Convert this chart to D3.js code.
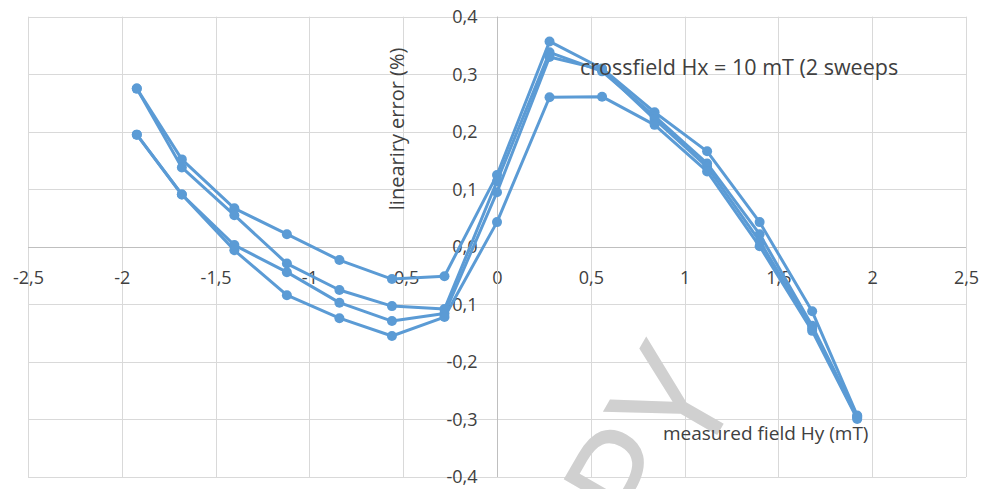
<!DOCTYPE html>
<html>
<head>
<meta charset="utf-8">
<script src="https://cdn.jsdelivr.net/npm/d3@7"></script>
<style>
  html, body { margin: 0; padding: 0; background: #fff; }
  svg { display: block; font-family: "Open Sans", "Noto Sans", sans-serif; }
</style>
</head>
<body>
<svg id="svg" width="981" height="489"></svg>
<script>
// --- DATA ---
const fieldHy = [-1.92, -1.68, -1.40, -1.12, -0.84, -0.56, -0.28, 0, 0.28, 0.56, 0.84, 1.12, 1.40, 1.68, 1.92];
const sweepA = [0.275, 0.152, 0.067, 0.022, -0.023, -0.056, -0.051, 0.125, 0.357, 0.310, 0.234, 0.166, 0.043, -0.112, -0.293];
const sweepB = [0.275, 0.138, 0.055, -0.029, -0.075, -0.103, -0.108, 0.114, 0.338, 0.305, 0.227, 0.145, 0.022, -0.137, -0.295];
const sweepC = [0.195, 0.091, 0.003, -0.044, -0.097, -0.129, -0.116, 0.095, 0.330, 0.308, 0.222, 0.139, 0.010, -0.142, -0.297];
const sweepD = [0.195, 0.091, -0.006, -0.084, -0.124, -0.155, -0.122, 0.043, 0.260, 0.261, 0.212, 0.131, 0.001, -0.146, -0.299];
const xTicks = [-2.5, -2, -1.5, -1, -0.5, 0, 0.5, 1, 1.5, 2, 2.5];
const yTicks = [-0.4, -0.3, -0.2, -0.1, 0, 0.1, 0.2, 0.3, 0.4];

// --- CONFIGURATION ---
const LINE_COLOR = "#5b9bd5";
const GRID_COLOR = "#d9d9d9";
const AXIS_COLOR = "#bfbfbf";
const TEXT_COLOR = "#404040";

const svg = d3.select("#svg");
const x = d3.scaleLinear().domain([-2.5, 2.5]).range([28, 966]);
const y = d3.scaleLinear().domain([-0.4, 0.4]).range([477, 16.7]);

const fmt = v => String(+v.toFixed(1)).replace(".", ",");
const fmtY = v => v.toFixed(1).replace(".", ",").replace("-0,0", "0,0");

// --- GRID ---
const grid = svg.append("g");
grid.selectAll(".vgrid").data(xTicks).enter().append("line")
  .attr("x1", d => Math.round(x(d)) + 0.5).attr("x2", d => Math.round(x(d)) + 0.5)
  .attr("y1", y(0.4)).attr("y2", y(-0.4))
  .attr("stroke", GRID_COLOR);
grid.selectAll(".hgrid").data(yTicks).enter().append("line")
  .attr("y1", d => Math.round(y(d)) + 0.5).attr("y2", d => Math.round(y(d)) + 0.5)
  .attr("x1", x(-2.5)).attr("x2", x(2.5))
  .attr("stroke", GRID_COLOR);

// watermark (mostly outside the picture, only "PY" shows)
svg.append("text")
  .attr("transform", "translate(742,392) rotate(-60)")
  .attr("text-anchor", "end")
  .style("font-size", "155px")
  .attr("fill", "#d0d0d0")
  .text("COPY");

// --- AXES ---
const xAxis = svg.append("g").attr("transform", `translate(0,${Math.round(y(0)) + 0.5})`)
  .call(d3.axisBottom(x).tickValues(xTicks).tickSize(0).tickPadding(24).tickFormat(fmt));
const yAxis = svg.append("g").attr("transform", `translate(${Math.round(x(0)) + 0.5},0)`)
  .call(d3.axisLeft(y).tickValues(yTicks).tickSize(0).tickPadding(20).tickFormat(fmtY));

[xAxis, yAxis].forEach(a => {
  a.select(".domain").attr("stroke", AXIS_COLOR);
  a.selectAll("text")
    .attr("fill", TEXT_COLOR)
    .style("font-size", "18px")
    .style("font-family", "'Open Sans', 'Noto Sans', sans-serif");
});
xAxis.select(".domain").attr("d", `M${x(-2.5)},0H${x(2.5)}`);
yAxis.select(".domain").attr("d", `M0,${y(0.4)}V${y(-0.4)}`);

// --- SERIES ---
const seriesList = [sweepA, sweepB, sweepC, sweepD];
const line = d3.line().x((d, i) => x(fieldHy[i])).y(d => y(d));

const plot = svg.append("g");
seriesList.forEach(vals => {
  plot.append("path")
    .datum(vals)
    .attr("fill", "none")
    .attr("stroke", LINE_COLOR)
    .attr("stroke-width", 3)
    .attr("stroke-linejoin", "round")
    .attr("d", line);
});
seriesList.forEach(vals => {
  plot.selectAll(null).data(vals).enter().append("circle")
    .attr("cx", (d, i) => x(fieldHy[i]))
    .attr("cy", d => y(d))
    .attr("r", 5)
    .attr("fill", LINE_COLOR);
});

// --- LABELS ---
svg.append("text")
  .attr("transform", `translate(404,${y(0.205)}) rotate(-90)`)
  .attr("text-anchor", "middle")
  .attr("fill", TEXT_COLOR)
  .style("font-size", "20px")
  .text("lineariry error (%)");

svg.append("text")
  .attr("x", 580).attr("y", 75)
  .attr("fill", TEXT_COLOR)
  .style("font-size", "21.5px")
  .text("crossfield Hx = 10 mT (2 sweeps");

svg.append("text")
  .attr("x", 663).attr("y", 440)
  .attr("fill", TEXT_COLOR)
  .style("font-size", "19px")
  .text("measured field Hy (mT)");
</script>
</body>
</html>
